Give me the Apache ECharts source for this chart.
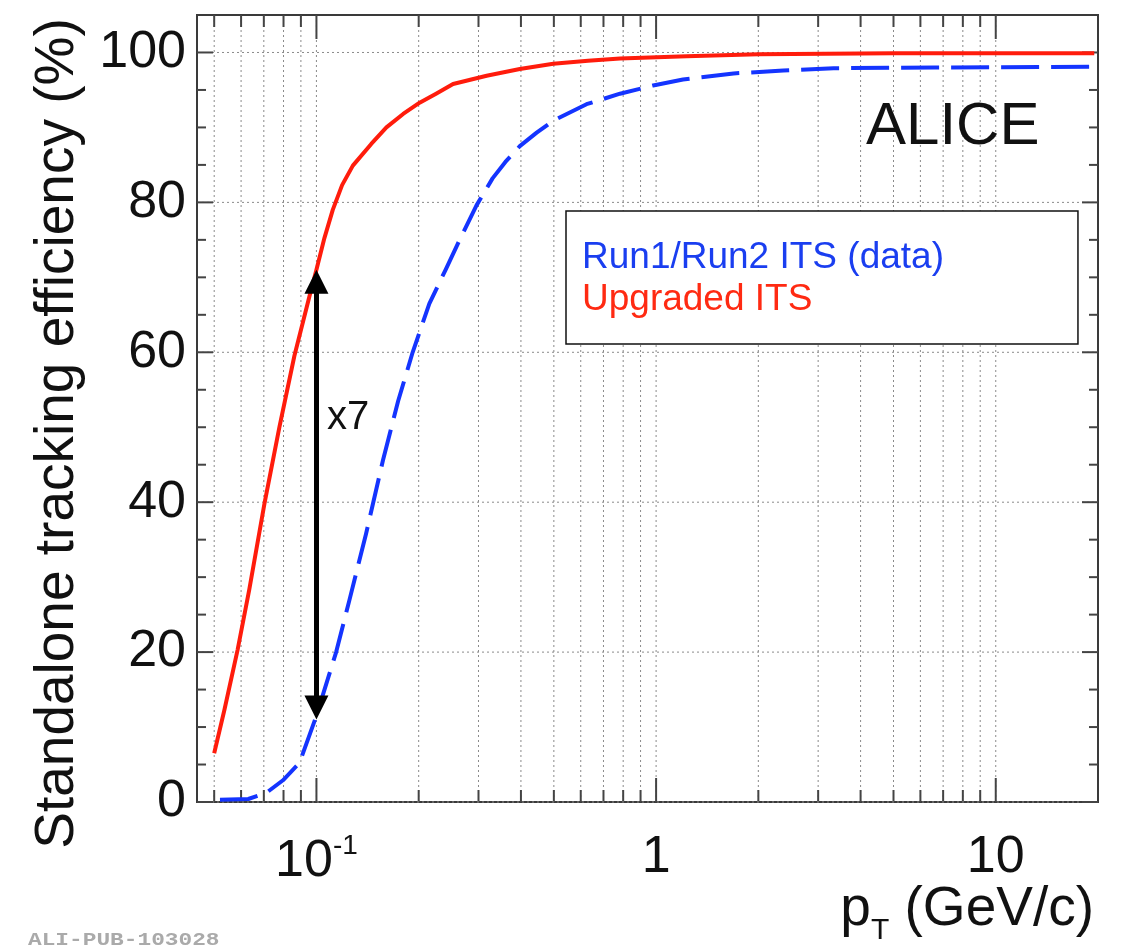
<!DOCTYPE html>
<html>
<head>
<meta charset="utf-8">
<script src="https://cdn.jsdelivr.net/npm/echarts@6/dist/echarts.min.js"></script>
<style>
html,body{margin:0;padding:0;background:#fff;}
#chart{width:1122px;height:950px;}
</style>
</head>
<body>
<div id="chart"></div>
<script>
// ---- data ----
const xRange = [0.0445, 20];
const yRange = [0, 105];
const xMajorTicks = [0.1, 1, 10];
const xMinorTicks = [0.05, 0.06, 0.07, 0.08, 0.09, 0.2, 0.3, 0.4, 0.5, 0.6, 0.7, 0.8, 0.9, 2, 3, 4, 5, 6, 7, 8, 9];
const yMajorTicks = [0, 20, 40, 60, 80, 100];
const yMinorTicks = [5, 10, 15, 25, 30, 35, 45, 50, 55, 65, 70, 75, 85, 90, 95];

const upgradedName = 'Upgraded ITS';
const upgradedPt  = [0.05, 0.0536, 0.0586, 0.0634, 0.0703, 0.0778, 0.0861, 0.0953, 0.1, 0.1055, 0.1117, 0.119, 0.128, 0.145, 0.1607, 0.18, 0.2013, 0.225, 0.2525, 0.317, 0.397, 0.498, 0.63, 0.783, 1.23, 2, 5, 19.5];
const upgradedEff = [6.5, 12.3, 20.3, 28.3, 39.8, 50.0, 59.5, 67.4, 71.0, 75.2, 79.0, 82.3, 84.9, 87.8, 90.0, 91.8, 93.3, 94.5, 95.8, 96.9, 97.8, 98.5, 98.9, 99.2, 99.5, 99.75, 99.9, 99.9];

const run12Name = 'Run1/Run2 ITS (data)';
const run12Pt  = [0.052, 0.063, 0.0711, 0.0797, 0.0891, 0.0998, 0.1143, 0.125, 0.14, 0.157, 0.174, 0.192, 0.215, 0.24, 0.264, 0.296, 0.33, 0.36, 0.397, 0.445, 0.498, 0.624, 0.783, 0.98, 1.2, 1.69, 2.37, 3.33, 6.6, 19.5];
const run12Eff = [0.3, 0.4, 1.2, 2.9, 5.2, 11.4, 20.0, 26.9, 35.8, 45.6, 53.5, 60.0, 66.5, 71.0, 75.0, 79.6, 83.2, 85.4, 87.5, 89.3, 90.9, 93.1, 94.5, 95.6, 96.4, 97.2, 97.6, 97.9, 98.0, 98.1];

const arrowPt = 0.1;
const arrowTop = 69.4;
const arrowBottom = 12.6;
const arrowText = 'x7';
const experimentLabel = 'ALICE';
const figureId = 'ALI-PUB-103028';
const yTitle = 'Standalone tracking efficiency (%)';
const xTitle = '{p|p}{s|T}{g| (GeV/c)}';

// ---- build ----
const FONT = 'Liberation Sans, Arial, Helvetica, sans-serif';
const RED = '#ff1c0c';
const BLUE = '#1434ff';

function zip(a, b) { return a.map((v, i) => [v, b[i]]); }

const tickData = [];
xMinorTicks.forEach(v => tickData.push([v, 50, 0]));
xMajorTicks.forEach(v => tickData.push([v, 50, 1]));
yMinorTicks.forEach(v => tickData.push([1, v, 2]));
yMajorTicks.forEach(v => tickData.push([1, v, 3]));

const GRID_STYLE = { stroke: '#8a8a8a', lineWidth: 1, lineDash: [2, 3] };
const TICK_STYLE = { stroke: '#444', lineWidth: 2 };

function renderTicks(params, api) {
  const cs = params.coordSys;
  const kind = api.value(2);
  const p = api.coord([api.value(0), api.value(1)]);
  const L = cs.x, R = cs.x + cs.width, T = cs.y, B = cs.y + cs.height;
  const ch = [];
  if (kind < 2) {
    const x = p[0];
    const len = kind === 1 ? 24 : 12;
    ch.push({ type: 'line', shape: { x1: x, y1: T, x2: x, y2: B }, style: GRID_STYLE });
    ch.push({ type: 'line', shape: { x1: x, y1: B - len, x2: x, y2: B }, style: TICK_STYLE });
    ch.push({ type: 'line', shape: { x1: x, y1: T, x2: x, y2: T + len }, style: TICK_STYLE });
  } else {
    const y = p[1];
    const len = kind === 3 ? 16 : 9;
    if (kind === 3) ch.push({ type: 'line', shape: { x1: L, y1: y, x2: R, y2: y }, style: GRID_STYLE });
    ch.push({ type: 'line', shape: { x1: L, y1: y, x2: L + len, y2: y }, style: TICK_STYLE });
    ch.push({ type: 'line', shape: { x1: R - len, y1: y, x2: R, y2: y }, style: TICK_STYLE });
  }
  return { type: 'group', children: ch };
}

const chart = echarts.init(document.getElementById('chart'), null, { renderer: 'canvas' });

const option = {
  animation: false,
  backgroundColor: '#fff',
  grid: {
    left: 197, right: 24, top: 15, bottom: 148,
    show: true, borderColor: '#3a3a3a', borderWidth: 2, backgroundColor: 'transparent',
    containLabel: false, outerBoundsMode: 'none'
  },
  legend: {
    orient: 'vertical', left: 566, top: 211,
    data: [
      { name: run12Name, textStyle: { color: '#1a3ef0' } },
      { name: upgradedName, textStyle: { color: '#ff2a12' } }
    ],
    icon: 'none', itemWidth: 0, itemHeight: 10, itemGap: 0,
    padding: [26, 134, 23, 11],
    backgroundColor: '#fff', borderColor: '#111', borderWidth: 1.5, borderRadius: 0,
    selectedMode: false,
    textStyle: { fontSize: 37, fontFamily: FONT, lineHeight: 42 }
  },
  xAxis: {
    type: 'log', logBase: 10, min: xRange[0], max: xRange[1],
    axisLine: { show: false }, axisTick: { show: false }, splitLine: { show: false }, minorTick: { show: false },
    axisLabel: {
      margin: 30, fontSize: 52, fontFamily: FONT, color: '#111',
      showMinLabel: false, showMaxLabel: false,
      formatter: function (v) {
        const l = Math.log10(v), r = Math.round(l);
        if (Math.abs(l - r) > 1e-6) return '';
        if (r < 0) return '{a|10}{b|' + r + '}';
        return String(Math.round(v));
      },
      rich: {
        a: { fontSize: 52, fontFamily: FONT, color: '#111', lineHeight: 56, verticalAlign: 'bottom' },
        b: { fontSize: 28, fontFamily: FONT, color: '#111', lineHeight: 28, verticalAlign: 'top' }
      }
    }
  },
  yAxis: {
    type: 'value', min: yRange[0], max: yRange[1], interval: 20,
    axisLine: { show: false }, axisTick: { show: false }, splitLine: { show: false },
    axisLabel: {
      margin: 11, fontSize: 52, fontFamily: FONT, color: '#111',
      formatter: v => (v % 20 === 0 && v <= 100) ? String(v) : ''
    },
    name: yTitle, nameLocation: 'middle', nameRotate: 90, nameGap: 112,
    nameTextStyle: { fontSize: 55, fontFamily: FONT, color: '#111', padding: [0, 50, 0, 0] }
  },
  series: [
    {
      type: 'custom', name: 'ticks', silent: true, clip: false, z: 1,
      encode: { x: 0, y: 1 },
      data: tickData, renderItem: renderTicks
    },
    {
      type: 'line', name: run12Name, data: zip(run12Pt, run12Eff),
      showSymbol: false, smooth: false, z: 3,
      color: BLUE, lineStyle: { color: BLUE, width: 4, type: [38, 12], join: 'round' }
    },
    {
      type: 'line', name: upgradedName, data: zip(upgradedPt, upgradedEff),
      showSymbol: false, smooth: false, z: 4,
      color: RED, lineStyle: { color: RED, width: 4, join: 'round' }
    },
    {
      type: 'line', name: 'arrow', data: [], z: 5,
      markLine: {
        silent: true, animation: false,
        symbol: ['triangle', 'triangle'], symbolSize: [24, 24],
        lineStyle: { color: '#000', width: 5, type: 'solid' },
        label: { show: false },
        data: [[{ coord: [arrowPt, arrowBottom] }, { coord: [arrowPt, arrowTop] }]]
      }
    }
  ],
  graphic: [
    { type: 'text', x: 866, y: 127, z: 10,
      style: { text: experimentLabel, font: '60px ' + FONT, fill: '#111', align: 'left', verticalAlign: 'middle' } },
    { type: 'text', x: 327, y: 418, z: 10,
      style: { text: arrowText, font: '40px ' + FONT, fill: '#111', align: 'left', verticalAlign: 'middle' } },
    { type: 'text', x: 1094, y: 910, z: 10,
      style: {
        text: xTitle, align: 'right', verticalAlign: 'middle',
        rich: {
          p: { fontSize: 55, fontFamily: FONT, fill: '#111', lineHeight: 72, verticalAlign: 'middle' },
          s: { fontSize: 30, fontFamily: FONT, fill: '#111', lineHeight: 24, verticalAlign: 'bottom' },
          g: { fontSize: 55, fontFamily: FONT, fill: '#111', lineHeight: 72, verticalAlign: 'middle' }
        }
      } },
    { type: 'text', x: 28, y: 940, z: 10, scaleX: 1.2,
      style: { text: figureId, font: 'bold 19px Liberation Mono, DejaVu Sans Mono, monospace', fill: '#aaa', align: 'left', verticalAlign: 'middle' } }
  ]
};
chart.setOption(option);
</script>
</body>
</html>
